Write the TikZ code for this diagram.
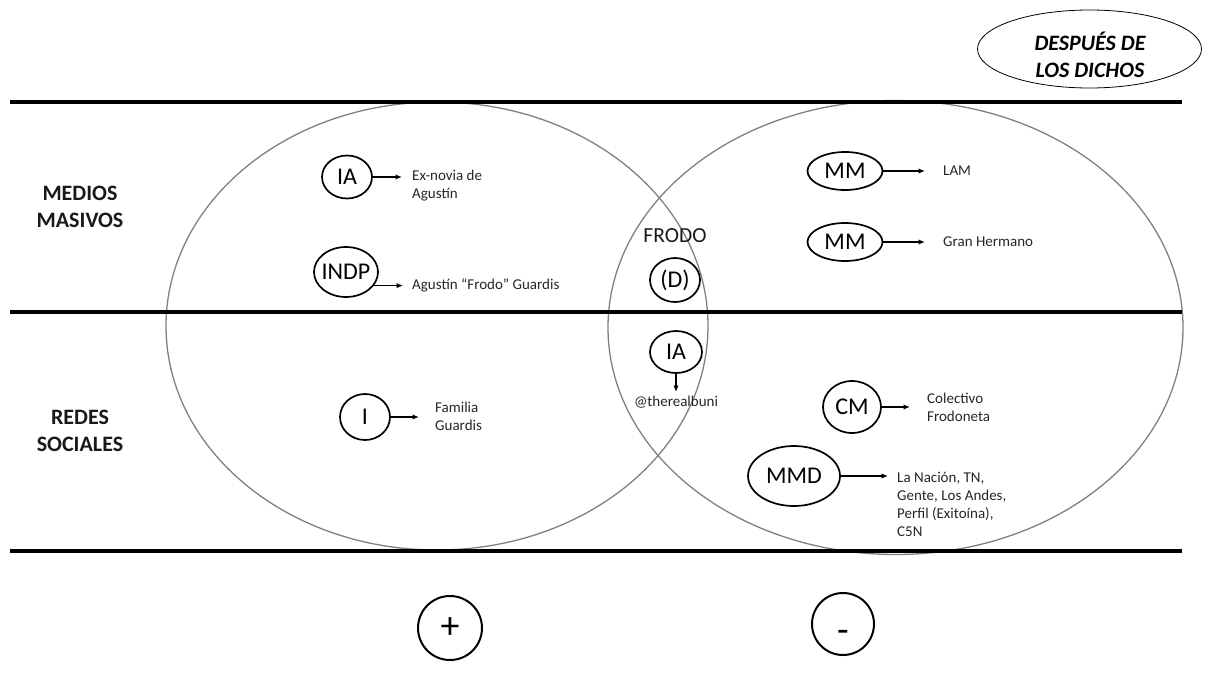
\documentclass[tikz,border=0pt]{standalone}
\usepackage{fontspec}
\setmainfont{Carlito}
\usetikzlibrary{shapes.geometric,arrows.meta}
\newcommand{\zw}[1]{\makebox[0pt]{#1}}
\begin{document}
\begin{tikzpicture}[x=1pt,y=-1pt,
  bigell/.style={draw=black!50, line width=1.3pt},
  band/.style={line width=3.6pt},
  sm/.style={draw, ellipse, line width=1.7pt, inner sep=0pt, font=\fontsize{24}{26}\selectfont},
  lbl/.style={font=\fontsize{15}{18}\selectfont, align=left, inner sep=0pt, text=black!85},
  arr/.style={line width=1.4pt, -{Latex[length=6.5pt,width=5.5pt]}},
  cat/.style={font=\bfseries\fontsize{22}{27}\selectfont, align=center, text=black!90},
  sign/.style={draw, circle, line width=2pt, inner sep=0pt, font=\fontsize{38}{38}\selectfont},
]
\useasboundingbox (0,0) rectangle (1209,683);

% big Venn ellipses
\draw[bigell] (437,326) ellipse [x radius=271, y radius=224];
\draw[bigell] (895.5,327.5) ellipse [x radius=287.5, y radius=227];

% horizontal bands
\draw[band] (10,102) -- (1182,102);
\draw[band] (10,312) -- (1182,312);
\draw[band] (10,551) -- (1182,551);

% title ellipse
\node[draw, ellipse, line width=0.8pt, minimum width=224, minimum height=78, inner sep=0pt] (dd) at (1089.5,49) {};
\node[font=\bfseries\itshape\fontsize{22}{27}\selectfont, align=center, inner sep=0pt] (ddt) at (1090,55) {DESPUÉS DE\\LOS DICHOS};

% row labels
\node[cat] (mm) at (80,207) {MEDIOS\\MASIVOS};
\node[cat] (rs) at (80,431) {REDES\\SOCIALES};

% left side
\node[sm, minimum width=50, minimum height=43] (ia1) at (347,177) {\zw{IA}};
\node[lbl, anchor=north west] (t1) at (412,170) {Ex-novia de\\Agustín};
\draw[arr, shorten >=10pt] (ia1.east) -- (ia1.east -| t1.west);

\node[sm, minimum width=64, minimum height=50] (indp) at (346,272) {\zw{INDP}};
\node[lbl, anchor=west] (t2) at (412,285) {Agustín “Frodo” Guardis};
\draw[arr, shorten >=9pt] (indp.-26) -- (indp.-26 -| t2.west);

\node[sm, minimum width=50, minimum height=46] (i1) at (365,417) {\zw{I}};
\node[lbl, anchor=west] (t3) at (435,416) {Familia\\Guardis};
\draw[arr, shorten >=16pt] (i1.east) -- (i1.east -| t3.west);

% centre
\node[font=\fontsize{21.5}{24}\selectfont, text=black!90] (frodo) at (675,236) {FRODO};
\node[sm, minimum width=50, minimum height=44] (d) at (675,280) {\zw{(D)}};
\node[sm, minimum width=52, minimum height=42] (ia2) at (676,352) {\zw{IA}};
\node[lbl, anchor=north] (t4) at (676,396) {@therealbuni};
\draw[arr, shorten >=4pt] (ia2.south) -- (t4.north);

% right side
\node[sm, minimum width=75, minimum height=38] (mm1) at (845,171) {\zw{MM}};
\node[lbl, anchor=west] (t5) at (943,171) {LAM};
\draw[arr, shorten >=18pt] (mm1.east) -- (mm1.east -| t5.west);

\node[sm, minimum width=75, minimum height=38] (mm2) at (845,242) {\zw{MM}};
\node[lbl, anchor=west] (t6) at (943,242) {Gran Hermano};
\draw[arr, shorten >=18pt] (mm2.east) -- (mm2.east -| t6.west);

\node[sm, minimum width=58, minimum height=52] (cm) at (852,407) {\zw{CM}};
\node[lbl, anchor=west] (t7) at (927,407) {Colectivo\\Frodoneta};
\draw[arr, shorten >=17pt] (cm.east) -- (cm.east -| t7.west);

\node[sm, minimum width=92, minimum height=60] (mmd) at (794,476) {\zw{MMD}};
\node[lbl, anchor=north west] (t8) at (897,471.5) {La Nación, TN,\\Gente, Los Andes,\\Perfil (Exitoína),\\C5N};
\draw[arr, shorten >=9pt] (mmd.east) -- (mmd.east -| t8.west);

% signs
\node[sign, minimum size=64] (plus) at (450,628) {\zw{+}};
\node[sign, minimum size=62] (minus) at (843,624) {\zw{\vphantom{+}\smash{\raisebox{-8pt}{-}}}};
\end{tikzpicture}
\end{document}
